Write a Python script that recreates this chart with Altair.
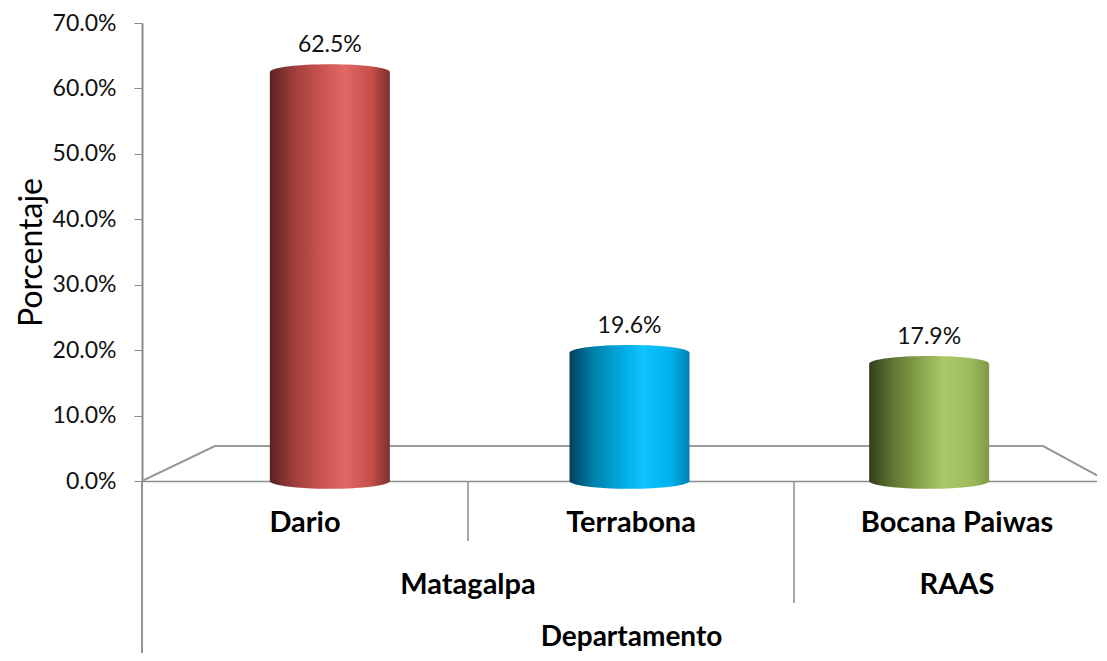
import altair as alt
import pandas as pd

categories = ["Dario", "Terrabona", "Bocana Paiwas"]
regions = ["Matagalpa", "Matagalpa", "RAAS"]
values = [0.625, 0.196, 0.179]
value_labels = ["62.5%", "19.6%", "17.9%"]
y_ticks = [0.0, 0.1, 0.2, 0.3, 0.4, 0.5, 0.6, 0.7]

gradient_stops = {
    "Dario": ["#5a2222", "#9e3e3b", "#c9524f", "#e26865", "#c44d4a", "#7c2f2d"],
    "Terrabona": ["#00405c", "#0080aa", "#00a8de", "#10c4ff", "#00b0ea", "#0082b0"],
    "Bocana Paiwas": ["#333f1c", "#5f7632", "#86a34c", "#aac96a", "#9cba5c", "#7f9a48"],
}
stop_offsets = [0.0, 0.2, 0.42, 0.62, 0.85, 1.0]

FONT = "Lato"
W, H = 955, 458
PT = 15  # top padding
FRONT_RANGE = [0, 978]

df = pd.DataFrame({"cat": categories, "region": regions, "value": values, "label": value_labels})

x_axis = alt.Axis(
    labelFont=FONT, labelFontSize=29, labelFontWeight="bold", labelColor="#000000",
    labelBaseline="middle", labelPadding=41, labelLimit=500, ticks=False,
    domainColor="#8c8c8c", domainWidth=1.5,
    titleFont=FONT, titleFontSize=28, titleFontWeight="bold", titleColor="#000000",
    titlePadding=86, labelAngle=0,
)
y_axis = alt.Axis(
    format=".1%", values=y_ticks, grid=False, labelFont=FONT, labelFontSize=23,
    labelColor="#111111", labelPadding=18, tickSize=8, tickColor="#8c8c8c",
    domainColor="#8c8c8c", domainWidth=2, titleFont=FONT, titleFontSize=32,
    titleFontWeight="normal", titleColor="#000000", titlePadding=4,
)
# front (axis) band scale and the perspective-shifted band scale for the cylinders
front_scale = alt.Scale(domain=categories, range=FRONT_RANGE, paddingInner=0, paddingOuter=0)
bar_scale = alt.Scale(domain=categories, range=[38, 937], paddingInner=0, paddingOuter=0)
y_scale = alt.Scale(domain=[0, 0.7], nice=False)


def XF(axis=None, **kw):
    return alt.X("cat:N", scale=front_scale, axis=axis, title="Departamento", **kw)


def XB(**kw):
    return alt.X("cat:N", scale=bar_scale, axis=None, **kw)


def Y(field="value:Q"):
    return alt.Y(field, scale=y_scale, axis=y_axis, title="Porcentaje")


base = alt.Chart(df)

# 3D floor frame (decoration)
fy_back, fy_front = H - 35, H
floor = alt.Chart(df).mark_rule(color="#9a9a9a", strokeWidth=1.5)
floor_layers = [
    floor.encode(x=alt.value(73), x2=alt.value(901), y=alt.value(fy_back)),
    floor.encode(x=alt.value(0), x2=alt.value(73), y=alt.value(fy_front), y2=alt.value(fy_back)),
    floor.encode(x=alt.value(901), x2=alt.value(960), y=alt.value(fy_back), y2=alt.value(fy_back + 32)),
]

ellipse = ("M -1 0 C -1 -0.072 -0.552 -0.13 0 -0.13 C 0.552 -0.13 1 -0.072 1 0 "
           "C 1 0.072 0.552 0.13 0 0.13 C -0.552 0.13 -1 0.072 -1 0 Z")

bar_layers = []
for c in categories:
    grad = alt.Gradient(
        gradient="linear", x1=0, x2=1, y1=0, y2=0,
        stops=[alt.GradientStop(offset=o, color=col) for o, col in zip(stop_offsets, gradient_stops[c])],
    )
    sub = base.transform_filter(alt.datum.cat == c)
    bottom = sub.transform_calculate(zero="0").mark_point(
        shape=ellipse, size=14400, filled=True, color=grad, opacity=1, strokeWidth=0
    ).encode(x=XB(), y=Y("zero:Q"))
    body = sub.mark_bar(size=120, color=grad).encode(x=XB(), y=Y())
    top = sub.mark_point(shape=ellipse, size=14400, filled=True, color=grad, opacity=1, strokeWidth=0).encode(
        x=XB(), y=Y()
    )
    bar_layers += [bottom, body, top]

text = base.mark_text(font=FONT, fontSize=23, color="#111111", dy=-27).encode(
    x=XB(), y=Y(), text="label:N"
)

# hierarchical group labels: centred over the span of their categories
grp_names, grp_pos = [], []
for i, r in enumerate(regions):
    if not grp_names or grp_names[-1] != r:
        grp_names.append(r)
        grp_pos.append([i])
    else:
        grp_pos[-1].append(i)
gdf = pd.DataFrame({
    "region": grp_names,
    "pos": [(min(p) + max(p) + 1) / 2 for p in grp_pos],
})
group_text = alt.Chart(gdf).mark_text(
    font=FONT, fontSize=29, fontWeight="bold", color="#000000", baseline="middle"
).encode(
    x=alt.X("pos:Q", scale=alt.Scale(domain=[0, len(categories)], range=FRONT_RANGE), axis=None),
    y=alt.value(H + 104), text="region:N",
)

sep_rows = []
for i in range(1, len(categories)):
    sep_rows.append({"cat": categories[i], "long": regions[i] != regions[i - 1]})
sep_df = pd.DataFrame(sep_rows)

sep_short = alt.Chart(sep_df).transform_filter("!datum.long").mark_rule(color="#8c8c8c", strokeWidth=1.5).encode(
    x=XF(axis=x_axis, bandPosition=0), y=alt.value(H), y2=alt.value(H + 60)
)
sep_long = alt.Chart(sep_df).transform_filter("datum.long").mark_rule(color="#8c8c8c", strokeWidth=1.5).encode(
    x=XF(bandPosition=0), y=alt.value(H), y2=alt.value(H + 122)
)
left_border = alt.Chart(sep_df).mark_rule(color="#8c8c8c", strokeWidth=1.5).encode(
    x=alt.value(0), y=alt.value(H), y2=alt.value(H + 180)
)

chart = alt.layer(
    *floor_layers, *bar_layers, text, group_text, sep_short, sep_long, left_border
).resolve_scale(x="independent").properties(
    width=W, height=H,
    autosize=alt.AutoSizeParams(type="none"),
    padding={"left": 134, "top": PT, "right": 0, "bottom": 172},
).configure_view(stroke=None)

chart.save("out.html", embed_options={"renderer": "svg", "actions": False})
